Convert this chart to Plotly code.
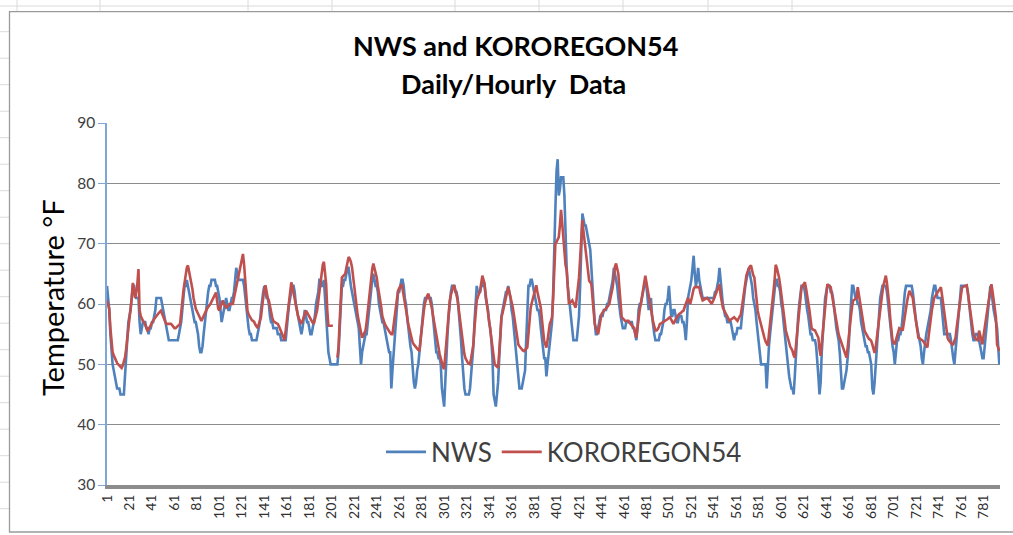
import plotly.graph_objects as go

# ---------------- data (hourly readings) ----------------
tick_labels = [str(v) for v in range(1, 782, 20)]

nws = [
    63, 61, 59, 55, 52, 50, 49, 48, 47, 46, 46, 46, 45, 45, 45, 45, 48, 51, 54, 57,
    58, 59, 61, 63, 63, 62, 61, 61, 61, 57, 55, 56, 57, 57, 57, 56, 56, 55, 56, 56,
    57, 57, 58, 59, 61, 61, 61, 61, 61, 60, 59, 58, 57, 56, 55, 54, 54, 54, 54, 54,
    54, 54, 54, 54, 55, 56, 57, 59, 61, 63, 63, 64, 63, 62, 61, 60, 59, 58, 57, 57,
    56, 55, 53, 52, 52, 53, 55, 57, 59, 61, 62, 63, 63, 64, 64, 64, 64, 63, 63, 62,
    61, 59, 57, 58, 59, 60, 61, 60, 59, 59, 60, 61, 61, 62, 64, 66, 65, 64, 64, 64,
    64, 64, 63, 61, 59, 57, 56, 55, 55, 54, 54, 54, 54, 54, 55, 56, 57, 59, 61, 62,
    63, 62, 61, 61, 60, 58, 57, 57, 56, 56, 56, 56, 55, 55, 55, 54, 54, 54, 54, 54,
    56, 59, 60, 61, 62, 63, 63, 62, 60, 59, 58, 57, 56, 55, 56, 58, 59, 58, 57, 57,
    56, 55, 55, 56, 57, 58, 60, 61, 62, 64, 64, 63, 63, 64, 61, 57, 55, 52, 51, 50,
    50, 50, 50, 50, 50, 50, 52, 55, 59, 63, 63, 64, 64, 65, 66, 66, 64, 63, 62, 61,
    60, 59, 58, 57, 56, 53, 50, 52, 53, 54, 55, 55, 57, 59, 61, 63, 64, 65, 64, 63,
    63, 62, 60, 59, 58, 57, 57, 56, 55, 54, 53, 52, 52, 46, 49, 52, 55, 58, 61, 62,
    62, 63, 64, 64, 63, 61, 60, 58, 56, 55, 53, 52, 49, 47, 46, 47, 49, 50, 52, 54,
    57, 59, 60, 61, 61, 61, 61, 61, 61, 60, 58, 57, 55, 52, 52, 51, 51, 50, 46, 44,
    43, 47, 52, 55, 58, 61, 62, 63, 63, 63, 62, 62, 61, 59, 57, 54, 51, 48, 46, 45,
    45, 45, 45, 46, 48, 50, 53, 57, 60, 63, 62, 62, 62, 63, 63, 64, 63, 61, 60, 59,
    57, 56, 54, 51, 45, 44, 43, 45, 47, 51, 55, 58, 59, 60, 61, 62, 62, 63, 62, 61,
    59, 58, 56, 54, 51, 49, 47, 46, 46, 46, 47, 48, 49, 54, 59, 63, 63, 64, 64, 63,
    62, 61, 60, 59, 59, 58, 56, 54, 52, 51, 51, 48, 50, 52, 54, 56, 57, 62, 71, 76,
    82, 84, 78, 79, 81, 81, 81, 78, 70, 66, 63, 61, 59, 57, 55, 54, 54, 54, 54, 56,
    58, 63, 69, 75, 74, 73, 73, 72, 71, 70, 69, 66, 62, 60, 57, 55, 55, 56, 57, 58,
    58, 58, 59, 59, 59, 60, 60, 61, 62, 63, 64, 66, 65, 64, 63, 61, 59, 58, 57, 56,
    56, 56, 57, 57, 57, 57, 57, 57, 56, 56, 55, 54, 56, 59, 60, 60, 61, 62, 63, 64,
    63, 61, 59, 60, 61, 58, 56, 55, 54, 54, 54, 54, 55, 55, 56, 57, 59, 60, 60, 61,
    63, 60, 58, 58, 59, 59, 58, 57, 57, 58, 58, 58, 57, 57, 56, 54, 57, 61, 62, 63,
    64, 66, 68, 65, 63, 64, 66, 64, 63, 62, 61, 61, 61, 61, 61, 61, 61, 61, 61, 61,
    61, 62, 62, 63, 64, 66, 64, 61, 60, 59, 58, 58, 57, 57, 57, 57, 56, 55, 54, 55,
    55, 56, 56, 56, 56, 58, 60, 62, 63, 64, 65, 66, 65, 64, 63, 61, 60, 59, 57, 55,
    53, 51, 50, 50, 50, 50, 50, 46, 50, 53, 55, 57, 59, 61, 62, 64, 64, 63, 63, 62,
    60, 59, 57, 55, 54, 52, 50, 48, 47, 46, 46, 45, 48, 52, 56, 58, 60, 62, 63, 63,
    63, 62, 60, 59, 58, 56, 55, 55, 54, 54, 54, 53, 51, 48, 45, 47, 52, 55, 58, 61,
    62, 63, 63, 63, 62, 62, 61, 59, 57, 56, 55, 54, 52, 49, 46, 46, 47, 48, 49, 51,
    53, 57, 60, 63, 63, 62, 61, 61, 60, 60, 59, 57, 56, 55, 54, 53, 53, 52, 52, 51,
    50, 46, 45, 47, 50, 53, 56, 59, 61, 62, 63, 63, 63, 63, 62, 60, 58, 57, 55, 53,
    52, 50, 52, 54, 54, 55, 55, 56, 58, 61, 62, 63, 63, 63, 63, 63, 63, 62, 60, 58,
    57, 56, 55, 54, 53, 51, 50, 52, 54, 55, 56, 57, 58, 59, 61, 62, 63, 63, 62, 61,
    61, 61, 61, 59, 57, 55, 55, 55, 55, 55, 55, 54, 52, 51, 50, 52, 55, 57, 59, 61,
    63, 63, 63, 63, 63, 63, 62, 60, 59, 57, 55, 54, 54, 55, 55, 55, 54, 53, 52, 51,
    51, 53, 56, 58, 60, 62, 63, 62, 60, 59, 58, 57, 56, 53, 50,
]

kor = [
    60.6, 60, 59.2, 56, 53, 52, 51.5, 51, 50.6, 50.2, 50, 49.8, 49.5, 49.4, 49.8, 50.5, 51.1, 52.5, 54, 56,
    58, 59.5, 61, 63.5, 62, 61, 62, 63.3, 65.8, 59, 58, 57.5, 57.2, 57, 56.5, 56, 55.6, 55.8, 56.2, 56.6,
    57, 57.2, 57.5, 57.8, 58, 58.3, 58.5, 58.7, 58.9, 58.4, 57.8, 57.4, 57, 56.7, 56.7, 56.7, 56.7, 56.7, 56.5, 56.2,
    56, 56, 56.2, 56.4, 56.6, 56.7, 58.5, 61, 62.2, 63.5, 65, 66, 66.4, 65.5, 64.5, 63.9, 62.5, 61, 59.8, 59.2,
    58.8, 58.3, 58, 57.6, 57.2, 57.5, 58, 58.4, 58.9, 59.2, 59.5, 59.7, 60, 60.4, 60.8, 61.2, 61.6, 61.9, 60.5, 59.2,
    58.9, 59.5, 60.2, 60.6, 60, 59.6, 59.4, 59.6, 59.8, 60, 60, 60, 60, 61, 62, 62.8, 63.8, 64.8, 65.6, 66.5,
    67.5, 68.3, 66.5, 64.4, 61, 58.9, 58.3, 57.9, 57.6, 57.3, 57.2, 57, 56.6, 56.3, 56, 56.6, 57.2, 57.8, 59.5, 61.5,
    62.5, 63.1, 62, 61, 60.6, 59.5, 58.5, 57.8, 57.2, 57, 56.9, 56.8, 56.7, 56.3, 55.9, 55.6, 55, 54.5, 54, 55.5,
    57, 58.3, 60, 62, 63.6, 62.8, 61.8, 61, 60, 58.8, 58, 57.5, 57, 56.7, 57.2, 57.8, 58.4, 58.9, 58.6, 58.2,
    57.9, 57.6, 57.2, 56.9, 56.7, 57.5, 58.3, 59, 60.5, 62, 64, 65.5, 66.5, 67, 65.5, 63.3, 59, 56.4, 56.4, 56.4,
    56.4, 56.4, None, None, None, 51.1, 52.8, 57, 61, 64.4, 64.6, 64.8, 65, 66, 67, 67.8, 67.5, 67, 66.1, 64.5,
    62.5, 61, 59.5, 58.2, 57.2, 56, 55, 54.4, 54.8, 55.2, 55.6, 57, 58.9, 60.5, 62.5, 64.5, 65.8, 66.7, 66, 65.2,
    64.4, 63, 62, 61, 59.5, 58, 57.2, 56.8, 56.4, 56, 55.8, 55.5, 55.2, 55, 55, 56.5, 58, 59.5, 61, 62.2,
    62.6, 63, 63.3, 62.5, 61.5, 60.6, 59.2, 58, 56.7, 55.8, 54.8, 53.9, 53.6, 53.3, 53, 52.8, 52.6, 52.4, 52.2, 54,
    56, 57.8, 59, 60.2, 61, 61.4, 61.7, 61, 60.2, 59.4, 58.2, 57, 56, 54.8, 53.8, 52.8, 51.7, 51, 50.2, 49.6,
    49.2, 51.5, 54.4, 57, 59, 60.6, 61.5, 62.2, 62.8, 63.1, 62.5, 61.5, 60.6, 59, 57.2, 55.6, 54.2, 53, 51.7, 51,
    50.6, 50.3, 50.1, 50, 51, 52.2, 53.3, 56, 58.5, 60.6, 61.2, 61.8, 62.2, 63.5, 64.7, 64, 63.3, 61.5, 60, 58.9,
    57.3, 55.6, 53.9, 52.5, 51, 50, 49.8, 49.6, 49.4, 52, 55, 57.8, 58.5, 59.3, 60, 61, 62, 62.8, 62, 61.3,
    60.6, 59.5, 58.3, 57.2, 56, 54.6, 53.3, 53, 52.7, 52.5, 52.3, 52.2, 52.4, 52.6, 52.8, 55, 57.5, 59.4, 60.2, 61,
    61.7, 62.4, 63.1, 62, 61, 60, 59.4, 57.5, 55.5, 53.9, 53.3, 52.8, 54, 55.5, 56.7, 57.2, 57.8, 61, 65, 70,
    70.3, 70.7, 71.1, 73, 75.6, 73.5, 70.5, 68.5, 66.5, 65.6, 62.5, 60, 60.2, 60.4, 60.6, 60.2, 59.8, 59.4, 61, 62.7,
    64.4, 67.5, 71, 73.9, 72, 70.5, 68.9, 67, 65.5, 63.9, 63.6, 63.3, 61, 58.8, 56.7, 56.1, 55.6, 55, 56.1, 57.2,
    58.3, 58.6, 58.9, 59.1, 59.2, 59.5, 59.8, 60, 61, 62, 62.8, 64.5, 66.2, 66.7, 65.8, 65, 62.5, 60, 57.8, 57.6,
    57.4, 57.2, 57.2, 57.2, 57.2, 56.9, 56.7, 56.5, 56.2, 56, 55.2, 54.4, 56, 57.8, 59, 60, 61, 62.2, 63.5, 64.7,
    63.5, 62.8, 61.5, 60.3, 58.9, 58, 57, 56.3, 55.6, 55.6, 55.8, 56.2, 56.7, 56.8, 56.9, 57, 57.1, 57.2, 57.4, 57.5,
    57.7, 57.8, 57.4, 57, 56.7, 57.1, 57.5, 57.9, 58.1, 58.3, 58.4, 58.6, 58.8, 58.9, 59.5, 60.1, 60.6, 61, 60.5, 60,
    60.8, 61.7, 62.5, 62.8, 62.8, 62.8, 62.8, 62.8, 61.8, 61, 60.6, 60.7, 60.8, 60.9, 61, 60.8, 60.6, 60.3, 60, 60.3,
    60.8, 61.3, 61.8, 62.2, 62.7, 63.3, 61.5, 60, 59.4, 59, 58.6, 58.3, 57.9, 57.5, 57.2, 57.4, 57.5, 57.7, 57.8, 57.6,
    57.4, 57.2, 57.6, 58, 58.3, 59.5, 61, 62.5, 64, 64.8, 65.3, 65.8, 66.2, 66.4, 65.5, 64.8, 64.4, 62.5, 60.5, 58.9,
    58, 57.2, 56.7, 56, 55.1, 54.4, 53.8, 53.3, 53.1, 55, 56.6, 57.8, 60, 62, 63.9, 66.5, 66, 65.3, 64.4, 63.1,
    61.8, 60.6, 58.9, 57.2, 55.6, 54.8, 54, 53.3, 52.9, 52.6, 52.2, 51.5, 51.1, 53, 55, 56.7, 58.8, 60.9, 62.8, 63,
    63.3, 63.6, 62.6, 61.6, 60.6, 59, 57.5, 56, 55.8, 55.7, 55.6, 55.2, 54.8, 54.4, 52.5, 51.4, 53.5, 55.6, 57.7, 59.6,
    61.5, 63.3, 63.1, 62.9, 62.8, 61.6, 60.5, 59.4, 58.1, 56.8, 55.6, 55, 54.4, 53.9, 53.3, 52.7, 52.2, 51.6, 51.1, 52.7,
    54.8, 56.5, 58, 59.6, 60.6, 60.7, 60.9, 61, 62.8, 61.5, 60.5, 59.4, 58.1, 56.9, 55.6, 55.2, 54.8, 54.4, 54.2, 54.1,
    53.9, 53.3, 52.5, 51.9, 52.8, 54.5, 56, 57.5, 59, 60.8, 62, 63.2, 64.2, 64.7, 63.5, 62, 60, 57.5, 55, 53.9,
    53.6, 53.3, 54, 54.7, 55.4, 56, 55.9, 55.8, 55.6, 56.8, 58.2, 59.4, 60.5, 61.4, 62.2, 61.8, 61.4, 61, 59.5, 58,
    56.6, 55.2, 54.4, 54.3, 54.2, 54, 53.9, 53.6, 53.3, 53, 52.8, 54.5, 56.2, 57.8, 59, 60, 61, 61.3, 61.6, 61.9,
    62.2, 62.5, 62.8, 61.5, 60.2, 58.9, 57.4, 55.9, 54.4, 54, 53.7, 53.5, 53.3, 53.3, 53.8, 54.4, 56, 57.7, 59.4, 60.5,
    61.7, 62.8, 62.9, 63, 63.1, 63.1, 61.8, 60.4, 58.9, 57.6, 56.3, 55, 54.4, 54.2, 54, 53.9, 55.6, 54.8, 54, 53.3,
    54.8, 56.3, 57.8, 58.8, 59.9, 61, 62.2, 63.3, 62, 60.5, 59, 57.8, 53.3, 52.8, 52.2,
]

hours_nws = list(range(1, len(nws) + 1))
hours_kor = list(range(1, len(kor) + 1))
n_hours = max(len(nws), len(kor))

# ---------------- layout geometry (pixels) ----------------
W, H = 1013, 535
L, R, T, B = 107, 13, 123, 50
PW, PH = W - L - R, H - T - B


def px(x):
    return (x - L) / PW


def py(y):
    return (H - B - y) / PH


FONT = "Lato"
BLUE = "#4F81BD"
RED = "#C0504D"
SHEET = "#DADADA"

fig = go.Figure()
fig.add_trace(go.Scatter(x=hours_nws, y=nws, mode="lines", name="NWS",
                         line=dict(color=BLUE, width=2.6)))
fig.add_trace(go.Scatter(x=hours_kor, y=kor, mode="lines", name="KOROREGON54",
                         line=dict(color=RED, width=2.6), connectgaps=False))

fig.update_layout(
    width=W, height=H,
    margin=dict(l=L, r=R, t=T, b=B, pad=0),
    paper_bgcolor="white", plot_bgcolor="white",
    font=dict(family=FONT, color="#404040"),
    showlegend=True,
    legend=dict(orientation="h", x=px(564), y=py(452), xanchor="center", yanchor="middle",
                font=dict(size=26, color="#404040", family=FONT),
                bgcolor="rgba(0,0,0,0)", itemwidth=40, tracegroupgap=0),
)

fig.update_xaxes(
    range=[1, n_hours + 0.6],
    tickmode="array",
    tickvals=[int(t) for t in tick_labels],
    ticktext=tick_labels,
    tickangle=-90,
    tickfont=dict(size=14, color="#303030", family=FONT),
    showgrid=False, zeroline=False,
    showline=True, linecolor="#8C8C8C", linewidth=4,
    ticks="",
)

fig.update_yaxes(
    range=[30, 90], dtick=10,
    tickfont=dict(size=15.5, color="#404040", family=FONT),
    showgrid=True, gridcolor="#8C8C8C", gridwidth=1.3,
    zeroline=False,
    showline=True, linecolor="#7FA6D6", linewidth=1.5,
    ticks="outside", ticklen=7, tickcolor="#7FA6D6", tickwidth=1.2,
)

# Titles
fig.add_annotation(text="<b>NWS and KOROREGON54</b>", x=px(515), y=py(45), xref="paper", yref="paper",
                   xanchor="center", yanchor="middle",
                   showarrow=False, font=dict(size=27, color="#000000", family=FONT))
fig.add_annotation(text="<b>Daily/Hourly  Data</b>", x=px(513), y=py(83), xref="paper", yref="paper",
                   xanchor="center", yanchor="middle",
                   showarrow=False, font=dict(size=27, color="#000000", family=FONT))
fig.add_annotation(text="Temperature °F", textangle=-90, x=px(52), y=py(298), xref="paper", yref="paper",
                   xanchor="center", yanchor="middle",
                   showarrow=False, font=dict(size=29, color="#000000", family=FONT))

# Spreadsheet cell lines behind the chart object
fig.add_shape(type="line", xref="paper", yref="paper", x0=px(0), x1=px(1013), y0=py(6), y1=py(6),
              line=dict(color=SHEET, width=1), layer="below")
for gx in [17, 100, 248, 332, 455, 539, 623, 708, 792]:
    fig.add_shape(type="line", xref="paper", yref="paper", x0=px(gx), x1=px(gx), y0=py(0), y1=py(11),
                  line=dict(color=SHEET, width=1), layer="below")
for k in range(19):
    gy = 31.7 + 26.5 * k
    fig.add_shape(type="line", xref="paper", yref="paper", x0=px(0), x1=px(9), y0=py(gy), y1=py(gy),
                  line=dict(color=SHEET, width=1), layer="below")

# Chart frame
fig.add_shape(type="rect", xref="paper", yref="paper",
              x0=px(9.5), x1=px(1025), y0=py(532), y1=py(11.7),
              line=dict(color="#9A9A9A", width=1.3), fillcolor="rgba(0,0,0,0)", layer="below")

fig.write_html("out.html", config={"displayModeBar": False},
               post_script="document.body.style.margin='0px';document.body.style.overflow='hidden';")
